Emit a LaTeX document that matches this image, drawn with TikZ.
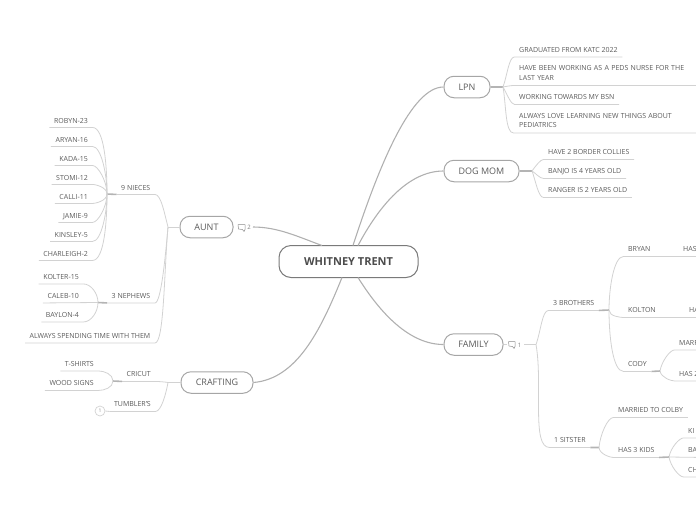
\documentclass[tikz,border=0pt]{standalone}
\usepackage{fontspec}
\setmainfont{Open Sans}
\definecolor{txt}{HTML}{5A5A5A}
\definecolor{rootline}{HTML}{7A7A7A}
\definecolor{boxline}{HTML}{A6A6A6}
\definecolor{mainconn}{HTML}{B0B0B0}
\definecolor{conn}{HTML}{D2D2D2}
\definecolor{hubconn}{HTML}{B4B4B4}
\tikzset{
  rootbox/.style={draw=rootline,line width=1pt,rounded corners=12pt,minimum width=139pt,minimum height=32pt,inner sep=0pt,text=txt!85!black,font=\fontsize{11}{13}\selectfont\bfseries},
  topicbox/.style={draw=boxline,line width=1pt,rounded corners=10pt,minimum height=21.5pt,inner sep=0pt,text=txt,font=\fontsize{9}{11}\selectfont},
  leaf/.style={inner xsep=4.5pt,inner ysep=0pt,text height=9pt,text depth=4.5pt,text=txt,font=\fontsize{7}{9}\selectfont},
  lleaf/.style={leaf,text height=9.5pt,text depth=4pt},
  wrapleaf/.style={inner xsep=5.5pt,inner ysep=5pt,text=txt,font=\fontsize{7}{9.5}\selectfont,align=left,text width=190pt},
  mainlink/.style={draw=mainconn,line width=1.1pt},
  link/.style={draw=conn,line width=.8pt},
  hublink/.style={draw=hubconn,line width=1.6pt},
  soft/.style={out looseness=1,in looseness=.45},
  commenticon/.style={draw=txt!70,line width=.5pt,line join=round},
  countlabel/.style={inner sep=0pt,text=txt!80,font=\fontsize{6}{7}\selectfont},
}
\begin{document}
\begin{tikzpicture}[x=1pt,y=-1pt]
\useasboundingbox (0,0) rectangle (696,520);
\clip (0,0) rectangle (696,520);
% central and main topics
\node[rootbox] (root) at (348.5,261.5) {WHITNEY TRENT};
\node[topicbox,minimum width=46pt] (lpn) at (467,87) {LPN};
\node[topicbox,minimum width=75pt] (dog) at (481.5,171) {DOG MOM};
\node[topicbox,minimum width=59pt] (family) at (473.5,344.5) {FAMILY};
\node[topicbox,minimum width=53pt] (aunt) at (206.5,227) {AUNT};
\node[topicbox,minimum width=72pt] (craft) at (217,382.5) {CRAFTING};
\coordinate (rlpn) at (353,245.5);
\coordinate (rdog) at (358,245.5);
\coordinate (rfam) at (358,277.5);
\coordinate (raunt) at (322,245.5);
\coordinate (rcraft) at (342,277.5);
\draw[mainlink] (rlpn) to[out=72,in=180,out looseness=1.2,in looseness=.45] (lpn.west);
\draw[mainlink] (rdog) to[out=62,in=180,out looseness=1,in looseness=.8] (dog.west);
\draw[mainlink] (rfam) to[out=-58,in=180,out looseness=1,in looseness=.8] (family.west);
\draw[mainlink] (craft.east) to[out=5,in=-112,out looseness=.8,in looseness=1.1] (rcraft);
% comment markers
\coordinate (cauntend) at (253,227);
\draw[mainlink] (cauntend) to[out=0,in=160,looseness=.9] (raunt);
\draw[commenticon] (238,224.5) -- (245,224.5) -- (245,229.5) -- (244,231.5) -- (242.5,229.5) -- (238.5,229) -- cycle;
\node[countlabel] (caunt) at (249,227.5) {2};
\draw[commenticon] (508.5,341.5) -- (515,341.5) -- (515,346.5) -- (514,348.5) -- (512.5,346.5) -- (509,346) -- cycle;
\node[countlabel] (cfam) at (519.5,345) {1};
\coordinate (famstub) at (507,344.5);
\draw[link] (family.east) -- (famstub);
% LPN
\coordinate (hlpn) at (503,87);
\draw[hublink] (lpn.east) -- (hlpn);
\node[leaf,anchor=west] (l1) at (514.5,50) {GRADUATED FROM KATC 2022};
\node[wrapleaf,anchor=south west] (l2) at (513.5,85.5) {HAVE BEEN WORKING AS A PEDS NURSE FOR THE\\LAST YEAR};
\node[leaf,anchor=west] (l3) at (514.5,97.5) {WORKING TOWARDS MY BSN};
\node[wrapleaf,anchor=south west] (l4) at (513.5,133) {ALWAYS LOVE LEARNING NEW THINGS ABOUT\\PEDIATRICS};
\draw[link] (hlpn) to[out=70,in=180,soft] (l1.south west) -- (l1.south east);
\draw[link] (hlpn) to[out=10,in=180,looseness=.7] (l2.south west) -- (l2.south east);
\draw[link] (hlpn) to[out=-60,in=180,soft] (l3.south west) -- (l3.south east);
\draw[link] (hlpn) to[out=-80,in=180,soft] (l4.south west) -- (l4.south east);
% DOG MOM
\coordinate (hdog) at (532,171);
\draw[hublink] (dog.east) -- (hdog);
\node[leaf,anchor=west] (d1) at (543.5,152.5) {HAVE 2 BORDER COLLIES};
\node[leaf,anchor=west] (d2) at (543.5,171.5) {BANJO IS 4 YEARS OLD};
\node[leaf,anchor=west] (d3) at (543.5,190.5) {RANGER IS 2 YEARS OLD};
\draw[link] (hdog) to[out=55,in=180,soft] (d1.south west) -- (d1.south east);
\draw[link] (hdog) to[out=-30,in=180,looseness=.7] (d2.south west) -- (d2.south east);
\draw[link] (hdog) to[out=-70,in=180,soft] (d3.south west) -- (d3.south east);
% FAMILY
\coordinate (hfam) at (536,344.5);
\coordinate (famstart) at (524,344.5);
\draw[link] (famstart) -- (hfam);
\node[leaf,anchor=west] (b) at (548.5,303.5) {3 BROTHERS};
\node[leaf,anchor=west] (s) at (549.5,440.5) {1 SITSTER};
\coordinate (hb) at (609,310);
\coordinate (hs) at (599,447.5);
\draw[link] (hfam) to[out=70,in=180,soft] (b.south west) -- (b.south east);
\draw[link] (hfam) to[out=-80,in=180,soft] (s.south west) -- (s.south east);
\draw[hublink] (b.south east) -- (hb);
\draw[hublink] (s.south east) -- (hs);
\node[leaf,anchor=west] (bry) at (623.5,249.5) {BRYAN};
\node[leaf,anchor=west] (kol) at (623.5,310.5) {KOLTON};
\node[leaf,anchor=west] (cod) at (623.5,364.5) {CODY};
\node[leaf,anchor=west] (brya) at (678.5,249.5) {HAS};
\node[leaf,anchor=west] (kola) at (684.5,310.5) {HA};
\draw[link] (hb) to[out=90,in=180,soft] (bry.south west) -- (brya.south east);
\draw[link] (hb) to[out=-90,in=180,soft] (kol.south west) -- (kola.south east);
\draw[link] (hb) to[out=-90,in=180,soft] (cod.south west) -- (cod.south east);
\coordinate (hc) at (660,371);
\draw[hublink] (cod.south east) -- (hc);
\node[leaf,anchor=west] (c1) at (674.5,343) {MARR};
\node[leaf,anchor=west] (c2) at (674.5,374) {HAS 2};
\draw[link] (hc) to[out=80,in=180,soft] (c1.south west) -- (c1.south east);
\draw[link] (hc) to[out=-80,in=180,soft] (c2.south west) -- (c2.south east);
\node[leaf,anchor=west] (m) at (613.5,410.5) {MARRIED TO COLBY};
\node[leaf,anchor=west] (k) at (613.5,450.5) {HAS 3 KIDS};
\draw[link] (hs) to[out=85,in=180,soft] (m.south west) -- (m.south east);
\draw[link] (hs) to[out=-85,in=180,soft] (k.south west) -- (k.south east);
\coordinate (hk) at (669,457);
\draw[hublink] (k.south east) -- (hk);
\node[leaf,anchor=west] (k1) at (683.5,431) {KI};
\node[leaf,anchor=west] (k2) at (683.5,450.5) {BA};
\node[leaf,anchor=west] (k3) at (683.5,470) {CH};
\draw[link] (hk) to[out=80,in=180,soft] (k1.south west) -- (k1.south east);
\draw[link] (hk) -- (k2.south east);
\draw[link] (hk) to[out=-80,in=180,soft] (k3.south west) -- (k3.south east);
% AUNT
\coordinate (haunt) at (168,227);
\draw[link] (aunt.west) -- (haunt);
\node[lleaf,anchor=east] (nieces) at (155,187.5) {9 NIECES};
\node[lleaf,anchor=east] (nephews) at (155,296) {3 NEPHEWS};
\node[lleaf,anchor=east] (spend) at (155,336) {ALWAYS SPENDING TIME WITH THEM};
\draw[link] (haunt) to[out=105,in=0,soft] (nieces.south east) -- (nieces.south west);
\draw[link] (haunt) to[out=-95,in=0,out looseness=1,in looseness=.2] (nephews.south east) -- (nephews.south west);
\draw[link] (haunt) to[out=-95,in=0,out looseness=1,in looseness=.2] (spend.south east) -- (spend.south west);
\coordinate (hn) at (107,194);
\draw[hublink] (nieces.south west) -- (hn);
\node[lleaf,anchor=east] (n1) at (92.5,120.5) {ROBYN-23};
\node[lleaf,anchor=east] (n2) at (92.5,139.5) {ARYAN-16};
\node[lleaf,anchor=east] (n3) at (92.5,158.5) {KADA-15};
\node[lleaf,anchor=east] (n4) at (92.5,177.5) {STOMI-12};
\node[lleaf,anchor=east] (n5) at (92.5,196.5) {CALLI-11};
\node[lleaf,anchor=east] (n6) at (92.5,215.5) {JAMIE-9};
\node[lleaf,anchor=east] (n7) at (92.5,234.5) {KINSLEY-5};
\node[lleaf,anchor=east] (n8) at (92.5,253.5) {CHARLEIGH-2};
\foreach \n in {n1,n2,n3,n4}{\draw[link] (hn) to[out=90,in=0,soft] (\n.south east) -- (\n.south west);}
\foreach \n in {n5,n6,n7,n8}{\draw[link] (hn) to[out=-90,in=0,soft] (\n.south east) -- (\n.south west);}
\coordinate (hp) at (98,302.5);
\draw[hublink] (nephews.south west) -- (hp);
\node[lleaf,anchor=east] (p1) at (83.5,277) {KOLTER-15};
\node[lleaf,anchor=east] (p2) at (83.5,296) {CALEB-10};
\node[lleaf,anchor=east] (p3) at (83.5,315) {BAYLON-4};
\draw[link] (hp) to[out=90,in=0,soft,in looseness=.8] (p1.south east) -- (p1.south west);
\draw[link] (hp) -- (p2.south west);
\draw[link] (hp) to[out=-90,in=0,soft,in looseness=.8] (p3.south east) -- (p3.south west);
% CRAFTING
\coordinate (hcr) at (168,382.5);
\draw[link] (craft.west) -- (hcr);
\node[leaf,anchor=east] (cri) at (155.5,374.5) {CRICUT};
\node[leaf,anchor=east] (tum) at (155.5,404.5) {TUMBLER'S};
\draw[link] (hcr) to[out=170,in=0,looseness=.7] (cri.south east) -- (cri.south west);
\draw[link] (hcr) to[out=-100,in=0,soft] (tum.south east) -- (tum.south west);
\coordinate (hcri) at (113,381);
\draw[hublink] (cri.south west) -- (hcri);
\node[leaf,anchor=east] (t1) at (98.5,364) {T-SHIRTS};
\node[leaf,anchor=east] (t2) at (98.5,383.5) {WOOD SIGNS};
\draw[link] (hcri) to[out=90,in=0,soft,in looseness=.8] (t1.south east) -- (t1.south west);
\draw[link] (hcri) to[out=-90,in=0,soft,in looseness=.8] (t2.south east) -- (t2.south west);
\node[circle,draw=conn,line width=.7pt,minimum size=10pt,inner sep=0pt,text=txt!70,font=\fontsize{5}{6}\selectfont] (tumc) at (100,411) {1};
\draw[link] (tum.south west) -- (tumc.east);
\end{tikzpicture}
\end{document}
